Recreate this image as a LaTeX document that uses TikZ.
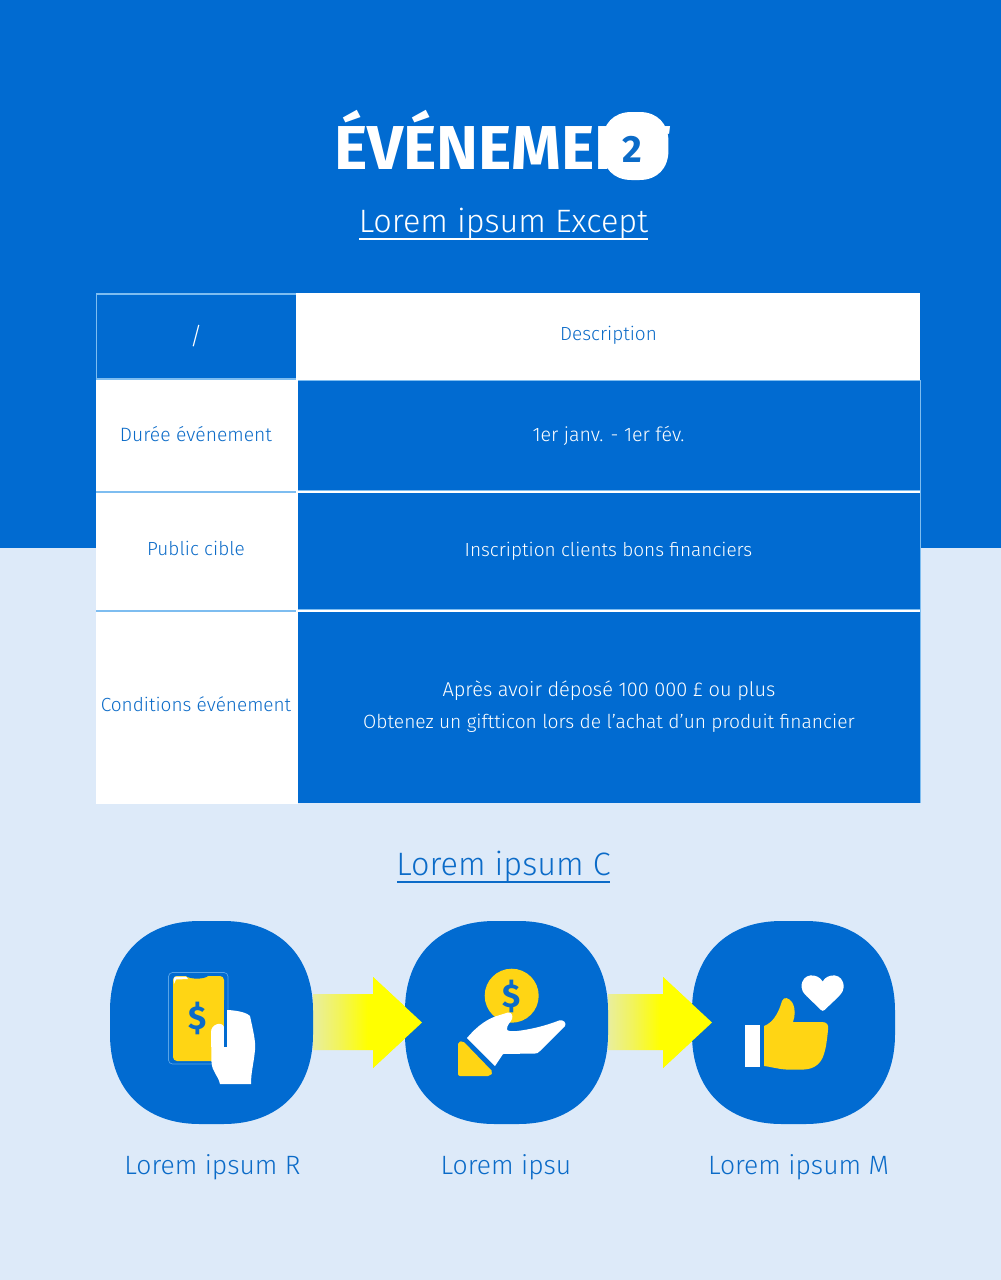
\documentclass[tikz,border=0pt]{standalone}
\usepackage{fontspec}
\setmainfont{Fira Sans Light}[BoldFont={Fira Sans Bold}]
\newfontfamily\titlefont{Fira Sans Bold}[FakeStretch=1.02]
\definecolor{mainblue}{HTML}{016BD1}
\definecolor{paleblue}{HTML}{DDEAF9}
\definecolor{textblue}{HTML}{0B6BC8}
\definecolor{iconyellow}{HTML}{FFD514}
\definecolor{edgeblue}{HTML}{7EBDF0}
\definecolor{arrowyellow}{HTML}{FFFF00}
\definecolor{arrowpale}{HTML}{E9EE9E}
\definecolor{arrowmid}{HTML}{F2F45A}
\pgfdeclarehorizontalshading{arrowfade}{100bp}{color(0bp)=(arrowpale); color(25bp)=(arrowpale); color(37bp)=(arrowmid); color(50bp)=(arrowyellow); color(100bp)=(arrowyellow)}
\newcommand{\squircle}[1]{%
  \path[#1] (-12,-101.5) -- (12,-101.5) .. controls (67,-101.5) and (101.5,-67) .. (101.5,-12)
   -- (101.5,12) .. controls (101.5,67) and (67,101.5) .. (12,101.5)
   -- (-12,101.5) .. controls (-67,101.5) and (-101.5,67) .. (-101.5,12)
   -- (-101.5,-12) .. controls (-101.5,-67) and (-67,-101.5) .. (-12,-101.5) -- cycle;}
\tikzset{
  lbl/.style={font=\fontsize{#1}{#1}\selectfont,inner sep=0pt,anchor=base},
  celltext/.style={lbl=19,text=white},
  celltextblue/.style={lbl=19,text=textblue},
  steplabel/.style={lbl=26.5,text=textblue},
  dollar/.style={font=\fontsize{#1}{#1}\selectfont\bfseries,text=textblue,inner sep=0pt},
}
\begin{document}
\begin{tikzpicture}[x=1pt,y=-1pt]
\useasboundingbox (0,0) rectangle (1001,1280);
% backgrounds
\fill[paleblue] (0,0) rectangle (1001,1280);
\fill[mainblue] (0,0) rectangle (1001,548);
% title
\node[inner sep=0pt,anchor=base west,font=\fontsize{62}{62}\titlefont,text=white] (title) at (334,169) {ÉVÉNEMENT};
\begin{scope}[shift={(635.5,146)},xscale=0.325,yscale=0.335]\squircle{fill=white}\end{scope}
\node[inner sep=0pt,anchor=base,font=\fontsize{38}{38}\selectfont\bfseries,text=textblue] (badge) at (632,162) {2};
\node[lbl=32.4,text=white] (subtitle) at (503.5,232) {Lorem ipsum Except};
\draw[white,line width=1.4] (359,239) -- (648,239);
% table
\fill[edgeblue] (95.5,292.5) rectangle (296,380);
\fill[mainblue] (97,295) rectangle (295.5,378);
\fill[white] (96,380) rectangle (296.5,803.5);
\fill[edgeblue] (297,380) rectangle (920.5,803);
\fill[white] (296,293) rectangle (920,380);
\fill[mainblue] (298,381) rectangle (919.5,490);
\fill[mainblue] (298,493) rectangle (919.5,609);
\fill[mainblue] (298,612) rectangle (919.5,802.5);
\fill[white] (296.5,380) rectangle (298,803.5);
\fill[white] (297,490.5) rectangle (920,492.5);
\fill[white] (297,609.5) rectangle (920,611.5);
\fill[edgeblue] (96,491.3) rectangle (296,492.5);
\fill[edgeblue] (96,610.3) rectangle (296,611.5);
\node[lbl=24,text=white] (c00) at (196,344) {/};
\node[celltextblue] (c01) at (608.5,340) {Description};
\node[lbl=19.3,text=textblue] (c10) at (196,441) {Durée événement};
\node[lbl=19.6,text=white] (c11) at (608.5,441) {1er janv. - 1er fév.};
\node[celltextblue] (c20) at (196,555) {Public cible};
\node[celltext] (c21) at (608.5,556) {Inscription clients bons financiers};
\node[celltextblue] (c30) at (196,711) {Conditions événement};
\node[lbl=20,text=white] (c31a) at (609,696) {Après avoir déposé 100 000 £ ou plus};
\node[lbl=19.2,text=white] (c31b) at (609,728) {Obtenez un giftticon lors de l'achat d'un produit financier};
% section heading
\node[lbl=32.4,text=textblue] (heading) at (503.5,875) {Lorem ipsum C};
\draw[textblue,line width=1.4] (397,882) -- (610,882);
% arrows
\shade[shading=arrowfade] (313,994) -- (373,994) -- (373,977) -- (422,1022.5) -- (373,1068) -- (373,1050) -- (313,1050) -- cycle;
\shade[shading=arrowfade] (608,994) -- (663,994) -- (663,977) -- (712,1022.5) -- (663,1068) -- (663,1050) -- (608,1050) -- cycle;
% squircles
\begin{scope}[shift={(211.5,1022.5)}]\squircle{fill=mainblue}\end{scope}
\begin{scope}[shift={(506.5,1022.5)}]\squircle{fill=mainblue}\end{scope}
\begin{scope}[shift={(793.5,1022.5)}]\squircle{fill=mainblue}\end{scope}
% arrow tips over the squircles
\fill[arrowyellow] (373,977) -- (422,1022.5) -- (373,1068) -- cycle;
\fill[arrowyellow] (663,977) -- (712,1022.5) -- (663,1068) -- cycle;
% phone icon
\draw[edgeblue!70!mainblue,line width=0.7,rounded corners=4] (168.5,972.5) rectangle (228,1064);
\fill[iconyellow,rounded corners=4] (173,976) rectangle (224,1061);
\fill[white] (175,976.5) -- (186,976.5) -- (188,979) -- (176,979.5) -- (174,984) -- (173.5,979) -- cycle;
\fill[mainblue] (186,976) .. controls (190,979.5) and (204,979.5) .. (208,976) -- cycle;
\node[dollar=33] (dollar1) at (198,1018) {\$};
\fill[white] (228,1010) .. controls (236,1010.5) and (246,1012) .. (250,1016)
  .. controls (253,1030) and (256,1042) .. (255,1050) .. controls (254,1062) and (251,1072) .. (251,1084)
  -- (220,1084) .. controls (218,1075) and (212,1072) .. (211.5,1062) -- (211,1032)
  .. controls (211,1024) and (222,1021) .. (224,1027) -- (224,1010) -- cycle;
\fill[mainblue] (224,1000) rectangle (227,1047);
% coin and hand icon
\fill[iconyellow] (511.7,995.7) circle (27);
\node[dollar=33] (dollar2) at (511.5,996) {\$};
\fill[iconyellow,rounded corners=2] (458,1042) -- (463,1041) -- (493,1072) -- (490,1076) -- (458,1076) -- cycle;
\fill[white] (467,1038) .. controls (477,1026) and (488,1018) .. (500,1015) -- (508,1012.5)
  .. controls (512,1012) and (513,1016) .. (512,1019) .. controls (510,1023) and (507,1025) .. (507,1029)
  .. controls (507,1031) and (510,1031.5) .. (517,1031) .. controls (530,1029.5) and (545,1026) .. (559,1020.5)
  .. controls (563,1019) and (567,1023) .. (565,1026) -- (540,1051) .. controls (538,1053) and (537,1053.5) .. (535,1053.5)
  -- (503,1054) -- (495,1066) -- cycle;
% thumb icon
\fill[white] (745,1025) rectangle (760,1067);
\fill[iconyellow] (764,1026) .. controls (772,1023) and (778,1015) .. (782,1001)
  .. controls (784,996) and (789,998) .. (792,1002) .. controls (796,1009) and (795,1016) .. (793,1022)
  -- (822,1022) .. controls (827,1022) and (829,1025) .. (828,1030)
  .. controls (827,1040) and (826,1048) .. (824,1054) .. controls (821,1064) and (814,1069) .. (804,1069.5)
  -- (786,1069.5) .. controls (778,1069) and (772,1067) .. (764,1066) -- cycle;
\fill[white] (822.7,981.5) .. controls (827,973) and (843.5,972) .. (843.7,987)
  .. controls (843.7,993) and (838,997) .. (824.5,1010) .. controls (823.5,1011) and (822,1011) .. (821,1010)
  .. controls (808,997) and (801.5,993) .. (801.5,987) .. controls (801.5,972) and (818,973) .. (822.7,981.5) -- cycle;
% step labels
\node[steplabel] (s1) at (212.5,1174) {Lorem ipsum R};
\node[steplabel] (s2) at (506,1174) {Lorem ipsu};
\node[steplabel] (s3) at (798.5,1174) {Lorem ipsum M};
\end{tikzpicture}
\end{document}
